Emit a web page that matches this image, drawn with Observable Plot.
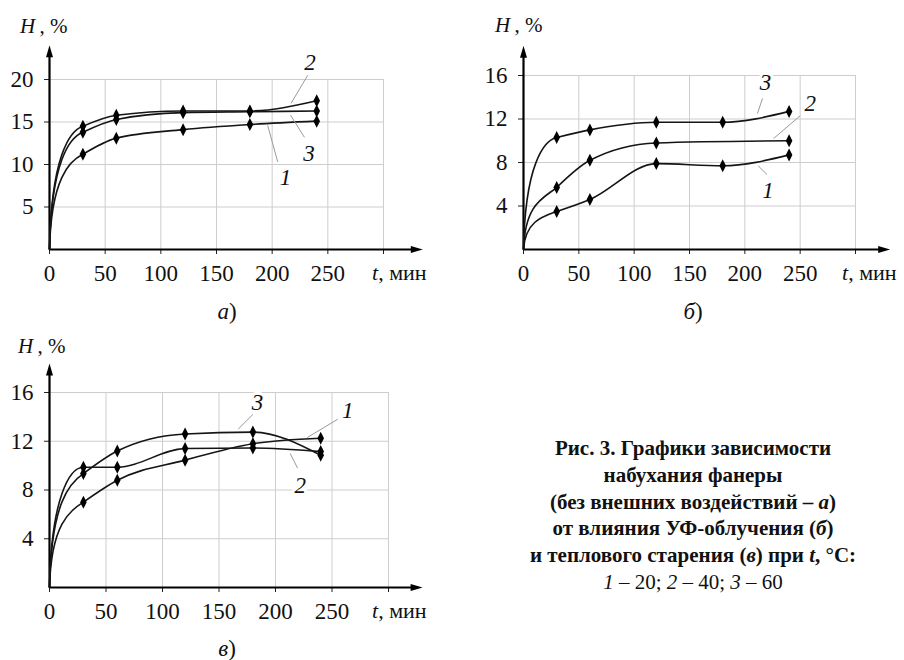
<!DOCTYPE html>
<html><head><meta charset="utf-8">
<script src="https://cdn.jsdelivr.net/npm/d3@7"></script>
<script src="https://cdn.jsdelivr.net/npm/@observablehq/plot@0.6"></script>
<style>
body{margin:0;padding:0;background:#fff;font-family:"Liberation Serif";}
.panel{position:absolute;}
.serif{font-family:"Liberation Serif" !important;}
</style>
</head><body>
<script>
// ---------- data ----------
const times = [0, 30, 60, 120, 180, 240];
const timesB2 = [0, 30, 60, 120, 240];
const xTickValues = [0, 50, 100, 150, 200, 250, 300];
const xTickLabels = ["0", "50", "100", "150", "200", "250", ""];
const xGridLines = [50, 100, 150, 200, 250, 300];
const yTicksA = [5, 10, 15, 20];
const yTicksBC = [4, 8, 12, 16];

// panel а) – без внешних воздействий
const a1 = [0, 11.2, 13.1, 14.1, 14.7, 15.1];
const a2 = [0, 14.5, 15.8, 16.3, 16.3, 17.5];
const a3 = [0, 13.8, 15.3, 16.1, 16.2, 16.3];
// panel б) – УФ-облучение
const b1 = [0, 3.5, 4.6, 7.9, 7.7, 8.7];
const b2 = [0, 5.7, 8.2, 9.8, 10.0];
const b3 = [0, 10.3, 11.0, 11.7, 11.7, 12.7];
// panel в) – тепловое старение
const c1 = [0, 7.0, 8.8, 10.45, 11.8, 12.25];
const c2 = [0, 9.87, 9.87, 11.4, 11.45, 11.15];
const c3 = [0, 9.35, 11.2, 12.6, 12.75, 10.85];

// curve number labels (data coordinates) with leader lines
const labelsA = [
  {text: "2", x: 234, y: 22.0, x1: 217, y1: 17.2, x2: 232, y2: 20.5},
  {text: "3", x: 233, y: 11.3, x1: 216.5, y1: 15.8, x2: 229, y2: 13.2},
  {text: "1", x: 212, y: 8.5, x1: 196, y1: 14.6, x2: 205, y2: 10.3}
];
const labelsB = [
  {text: "3", x: 218.7, y: 15.3, x1: 211.4, y1: 12.5, x2: 216, y2: 13.9},
  {text: "2", x: 259, y: 13.4, x1: 226, y1: 10.2, x2: 250, y2: 12.3},
  {text: "1", x: 221, y: 5.4, x1: 212, y1: 7.7, x2: 220, y2: 6.9}
];
const labelsC = [
  {text: "3", x: 184, y: 15.2, x1: 167, y1: 13.0, x2: 180, y2: 14.2},
  {text: "1", x: 264, y: 14.5, x1: 228, y1: 12.3, x2: 255, y2: 13.8},
  {text: "2", x: 222, y: 8.4, x1: 213, y1: 11.0, x2: 219.5, y2: 9.8}
];

// ---------- helpers ----------
const FONT = "Liberation Serif";
const diamond = {draw(ctx) { ctx.moveTo(0, -6.5); ctx.lineTo(3.3, 0); ctx.lineTo(0, 6.5); ctx.lineTo(-3.3, 0); ctx.closePath(); }};
const arrowUp = {draw(ctx) { ctx.moveTo(0, -7); ctx.lineTo(3.5, 5); ctx.lineTo(-3.5, 5); ctx.closePath(); }};
const arrowRight = {draw(ctx) { ctx.moveTo(7, 0); ctx.lineTo(-5, 3.5); ctx.lineTo(-5, -3.5); ctx.closePath(); }};

// saturation-style curve: steep knee for the first segment, monotone afterwards
function kneeCurve(context) {
  let pts;
  return {
    areaStart() {}, areaEnd() {},
    lineStart() { pts = []; },
    point(x, y) { pts.push([+x, +y]); },
    lineEnd() {
      if (pts.length < 3) {
        const c = d3.curveMonotoneX(context); c.lineStart(); pts.forEach(p => c.point(p[0], p[1])); c.lineEnd(); return;
      }
      const [p0, p1, p2] = pts;
      const dx = p1[0] - p0[0];
      const s12 = (p2[1] - p1[1]) / (p2[0] - p1[0]);
      context.moveTo(p0[0], p0[1]);
      context.bezierCurveTo(p0[0] + dx * 0.05, p0[1] + (p1[1] - p0[1]) * 0.75,
                            p1[0] - dx * 0.4, p1[1] - s12 * dx * 0.4, p1[0], p1[1]);
      const c = d3.curveMonotoneX(context); c.lineStart(); pts.slice(1).forEach(p => c.point(p[0], p[1])); c.lineEnd();
    }
  };
}

function panel(o) {
  const data = [];
  o.series.forEach((s, i) => s.t.forEach((t, j) => data.push({series: i + 1, t, h: s.h[j]})));
  const markers = data.filter(d => d.t > 0);
  return Plot.plot({
    width: o.width, height: o.height,
    marginLeft: o.ml, marginRight: o.mr, marginTop: o.mt, marginBottom: o.mb,
    style: {fontFamily: FONT, background: "transparent", color: "#111"},
    x: {domain: [0, 300]},
    y: {domain: [0, o.ymax]},
    marks: [
      Plot.gridX(xGridLines, {stroke: "#cdcdcd", strokeOpacity: 1, strokeWidth: 1}),
      Plot.gridY(o.yTicks, {stroke: "#cdcdcd", strokeOpacity: 1, strokeWidth: 1}),
      Plot.axisX(xTickValues, {tickSize: 5, tickPadding: 10, fontSize: 23, label: null, stroke: "#222",
        tickFormat: (d) => xTickLabels[xTickValues.indexOf(d)], fill: "#111", fontFamily: FONT}),
      Plot.axisY(o.yTicks, {tickSize: 5, tickPadding: 11, fontSize: 23, label: null, stroke: "#222", fill: "#111", fontFamily: FONT}),
      Plot.ruleX([0], {y1: 0, y2: o.yArrow, stroke: "#000", strokeWidth: 2.2}),
      Plot.ruleY([0], {x1: 0, x2: o.xArrow, stroke: "#000", strokeWidth: 2.2}),
      Plot.dot([{x: 0, y: o.yArrow}], {x: "x", y: "y", symbol: arrowUp, fill: "#000", stroke: null}),
      Plot.dot([{x: o.xArrow, y: 0}], {x: "x", y: "y", symbol: arrowRight, fill: "#000", stroke: null}),
      Plot.line(data, {x: "t", y: "h", z: "series", curve: kneeCurve, stroke: "#151515", strokeWidth: 1.6}),
      Plot.dot(markers, {x: "t", y: "h", symbol: diamond, fill: "#000", stroke: null}),
      Plot.link(o.labels, {x1: "x1", y1: "y1", x2: "x2", y2: "y2", stroke: "#9a9a9a", strokeWidth: 1}),
      Plot.text(o.labels, {x: "x", y: "y", text: "text", fontStyle: "italic", fontSize: 23, fill: "#111",
        stroke: "#fff", strokeWidth: 6, fontFamily: FONT})
    ]
  });
}

function place(node, left, top) {
  node.setAttribute("font-family", FONT);
  node.style.position = "absolute"; node.style.left = left + "px"; node.style.top = top + "px";
  node.style.overflow = "visible";
  document.body.appendChild(node);
}

place(panel({width: 450, height: 330, ml: 49, mr: 67, mt: 79, mb: 81, ymax: 20, yArrow: 23.2, xArrow: 329, yTicks: yTicksA,
  series: [{t: times, h: a1}, {t: times, h: a2}, {t: times, h: a3}], labels: labelsA}), 0, 0);
place(panel({width: 454, height: 330, ml: 73, mr: 49, mt: 75, mb: 81, ymax: 16, yArrow: 18.1, xArrow: 325, yTicks: yTicksBC,
  series: [{t: times, h: b1}, {t: timesB2, h: b2}, {t: times, h: b3}], labels: labelsB}), 450, 0);
place(panel({width: 450, height: 340, ml: 49, mr: 62, mt: 72, mb: 73, ymax: 16, yArrow: 17.8, xArrow: 324, yTicks: yTicksBC,
  series: [{t: times, h: c1}, {t: times, h: c2}, {t: times, h: c3}], labels: labelsC}), 0, 320);

// ---------- text overlay: axis titles, panel letters, caption ----------
const svg = d3.select(document.body).append("svg").attr("width", 904).attr("height", 660)
  .attr("font-family", FONT).style("position", "absolute").style("left", "0px").style("top", "0px")
  .style("pointer-events", "none");
function rich(x, y, parts, opts = {}) {
  const t = svg.append("text").attr("x", x).attr("y", y).attr("font-family", FONT).attr("fill", "#111")
    .attr("font-size", opts.size || 23).attr("text-anchor", opts.anchor || "start")
    .attr("font-weight", opts.bold ? "bold" : "normal");
  parts.forEach(p => {
    const s = t.append("tspan").text(p[0]);
    if (p[1]) s.attr("font-style", "italic");
  });
}
// axis titles
[[20, 33], [495, 32], [18, 353]].forEach(([x, y]) => rich(x, y, [["H", 1], ["\u2009, %"]], {size: 21}));
[[372, 280], [842, 280], [372, 618]].forEach(([x, y]) => rich(x, y, [["t", 1], [", мин"]], {size: 22}));
// panel letters
rich(227, 319, [["а", 1], [")"]], {anchor: "middle"});
rich(693, 319, [["б", 1], [")"]], {anchor: "middle"});
rich(227, 656, [["в", 1], [")"]], {anchor: "middle"});
// caption
const captionLines = [
  [["Рис. 3. Графики зависимости"]],
  [["набухания фанеры"]],
  [["(без внешних воздействий – "], ["а", 1], [")"]],
  [["от влияния УФ-облучения ("], ["б", 1], [")"]],
  [["и теплового старения ("], ["в", 1], [") при "], ["t", 1], [", °C:"]]
];
const capY = [455, 482, 508.5, 535, 562];
captionLines.forEach((parts, i) => rich(693, capY[i], parts, {size: 21, anchor: "middle", bold: true}));
rich(693, 588.5, [["1", 1], [" – 20; "], ["2", 1], [" – 40; "], ["3", 1], [" – 60"]], {size: 21, anchor: "middle"});

// make sure every text node uses the serif face
document.querySelectorAll("svg, svg g, svg text, svg tspan").forEach(el => {
  el.setAttribute("font-family", FONT);
  el.style.fontFamily = "'Liberation Serif'";
  el.classList.add("serif");
});
</script>
</body></html>
